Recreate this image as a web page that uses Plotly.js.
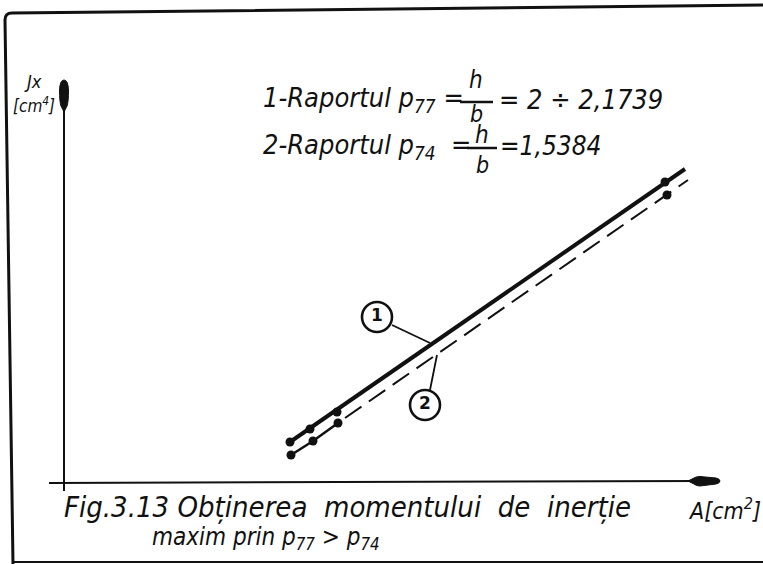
<!DOCTYPE html>
<html>
<head>
<meta charset="utf-8">
<script src="https://cdn.plot.ly/plotly-3.0.1.min.js"></script>
<style>
  html, body { margin: 0; padding: 0; background: #fff; }
  #chart { width: 763px; height: 564px; }
</style>
</head>
<body>
<div id="chart"></div>
<script>
// Moment of inertia Jx [cm^4] against area A [cm^2] (relative units, no scale drawn)
// Series 1: ratio p77 = h/b = 2 ... 2.1739
const A_p77 = [22.6, 24.6, 27.3, 60.1];
const J_p77 = [4.1, 5.4, 7.1, 30.1];
const fitA_p77 = [22.6, 62.1];
const fitJ_p77 = [4.1, 31.4];

// Series 2: ratio p74 = h/b = 1.5384
const A_p74 = [22.7, 24.9, 27.4, 60.3];
const J_p74 = [2.8, 4.2, 6.0, 28.8];
const dashA_p74 = [28.1, 62.4];
const dashJ_p74 = [6.5, 30.3];

// Curve markers and the points their leaders touch
const tagText = ['1', '2'];
const tagA = [31.3, 36.1];
const tagJ = [16.6, 7.8];
const leaderFromA = [32.8, 36.6];
const leaderFromJ = [15.8, 9.3];
const leaderToA = [36.6, 37.3];
const leaderToJ = [14.0, 12.8];

// Axis extents
const xAxisSpan = [-1.5, 65.6];
const yAxisSpan = [-0.8, 40.3];

const W = 763, H = 564;
const PX = 10;                     // pixels per unit
const X0 = 64, Y0 = 483;           // pixel position of the origin
const xr = [-X0 / PX, (W - X0) / PX];
const yr = [(Y0 - H) / PX, Y0 / PX];

const ink = '#111';
const hand = 'DejaVu Sans Condensed, Liberation Sans Narrow, DejaVu Sans, sans-serif';
const f = (size) => ({family: hand, size: size, color: ink, style: 'italic'});

// paper helpers for the drawing frame
const pxX = (x) => x / W;
const pxY = (y) => 1 - y / H;

const traces = [
  {x: fitA_p77, y: fitJ_p77, mode: 'lines', line: {color: ink, width: 4}, hoverinfo: 'skip'},
  {x: A_p77, y: J_p77, mode: 'markers', marker: {color: ink, size: 9}, hoverinfo: 'skip'},
  {x: A_p74.slice(0, 3), y: J_p74.slice(0, 3), mode: 'lines', line: {color: ink, width: 2.5}, hoverinfo: 'skip'},
  {x: dashA_p74, y: dashJ_p74, mode: 'lines', line: {color: ink, width: 2, dash: '20px,9px'}, hoverinfo: 'skip'},
  {x: A_p74, y: J_p74, mode: 'markers', marker: {color: ink, size: 9}, hoverinfo: 'skip'},
  {x: tagA, y: tagJ, mode: 'markers+text', text: tagText, textposition: 'middle center',
   textfont: {family: 'DejaVu Sans', size: 17, color: ink, weight: 'bold'},
   marker: {symbol: 'circle-open', size: 30, color: ink, line: {width: 2.6, color: ink}}, hoverinfo: 'skip'}
];

const shapes = [
  // frame
  {type: 'path', xref: 'paper', yref: 'paper',
   path: `M ${pxX(13)},${pxY(564)} L ${pxX(5)},${pxY(20)} Q ${pxX(5)},${pxY(13)} ${pxX(12)},${pxY(13)} L ${pxX(763)},${pxY(5)}`,
   line: {color: ink, width: 3}},
  {type: 'line', xref: 'paper', yref: 'paper', x0: pxX(12), x1: 1, y0: pxY(562), y1: pxY(562),
   line: {color: ink, width: 2}},
  // axes
  {type: 'line', xref: 'x', yref: 'y', x0: xAxisSpan[0], x1: xAxisSpan[1] - 2, y0: 0, y1: 0.2,
   line: {color: ink, width: 2}},
  {type: 'line', xref: 'x', yref: 'y', x0: 0, x1: 0, y0: yAxisSpan[0], y1: yAxisSpan[1] - 2,
   line: {color: ink, width: 2}},
  // arrow heads
  {type: 'path', xref: 'x', yref: 'y', xsizemode: 'pixel', ysizemode: 'pixel',
   xanchor: xAxisSpan[1], yanchor: 0.2,
   path: 'M -32,0 L -26,-3 Q -24,-5 -20,-5 L -4,-3 Q 0,-2 0,0 Q 0,2 -4,3 L -20,4.5 Q -24,4.5 -26,3 Z',
   fillcolor: ink, line: {color: ink, width: 1}},
  {type: 'path', xref: 'x', yref: 'y', xsizemode: 'pixel', ysizemode: 'pixel',
   xanchor: 0, yanchor: yAxisSpan[1],
   path: 'M 0,-32 L -3,-26 Q -4.5,-22 -4.5,-10 Q -4,0 0,0 Q 4,0 4.5,-10 Q 4.5,-22 3,-26 Z',
   fillcolor: ink, line: {color: ink, width: 1}},
  // fraction bars
  {type: 'line', xref: 'x', yref: 'y', x0: 39.6, x1: 42.9, y0: 38.1, y1: 38.1, line: {color: ink, width: 2.5}},
  {type: 'line', xref: 'x', yref: 'y', x0: 40.3, x1: 43.3, y0: 33.5, y1: 33.5, line: {color: ink, width: 2.5}}
];

// leader lines from the tags to the curves
for (let i = 0; i < tagText.length; i++) {
  shapes.push({type: 'line', xref: 'x', yref: 'y',
    x0: leaderFromA[i], y0: leaderFromJ[i], x1: leaderToA[i], y1: leaderToJ[i],
    line: {color: ink, width: 1.8}});
}

const ann = (x, y, text, size, anchor) => ({
  x: x, y: y, xref: 'x', yref: 'y', text: text, showarrow: false,
  xanchor: anchor || 'left', yanchor: 'middle', font: f(size)
});

const annotations = [
  ann(-4.2, 40.2, 'Jx', 18),
  ann(-5.3, 37.8, '[cm<sup>4</sup>]', 17),
  ann(19.7, 38.4, '1-Raportul p<sub>77</sub> =', 27),
  ann(41.2, 40.3, 'h', 24, 'center'),
  ann(41.2, 36.9, 'b', 23, 'center'),
  ann(43.3, 38.4, '= 2 ÷ 2,1739', 27),
  ann(19.7, 33.7, '2-Raportul p<sub>74</sub>  =', 27),
  ann(41.8, 34.8, 'h', 24, 'center'),
  ann(41.8, 31.8, 'b', 23, 'center'),
  ann(43.4, 33.7, '=1,5384', 26),
  ann(-0.2, -2.4, 'Fig.3.13 Obținerea  momentului  de  inerție', 29),
  ann(62.2, -2.6, 'A[cm<sup>2</sup>]', 23),
  ann(8.6, -5.5, 'maxim prin p<sub>77</sub> > p<sub>74</sub>', 24)
];

const layout = {
  width: W, height: H,
  margin: {l: 0, r: 0, t: 0, b: 0},
  paper_bgcolor: '#fff', plot_bgcolor: '#fff',
  showlegend: false,
  xaxis: {range: xr, visible: false, fixedrange: true},
  yaxis: {range: yr, visible: false, fixedrange: true},
  shapes: shapes,
  annotations: annotations
};

Plotly.newPlot('chart', traces, layout, {staticPlot: true, displayModeBar: false});
</script>
</body>
</html>
